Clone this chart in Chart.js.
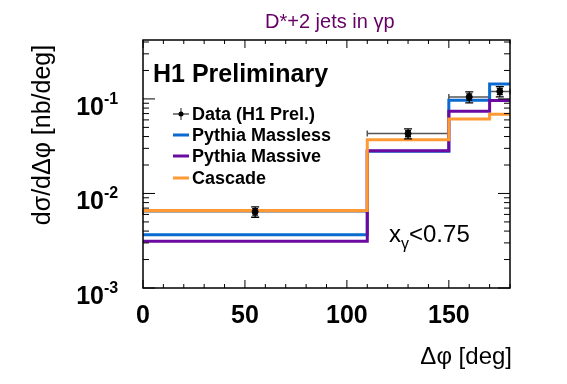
<!DOCTYPE html>
<html>
<head>
<meta charset="utf-8">
<script src="https://cdn.jsdelivr.net/npm/chart.js@4.4.1/dist/chart.umd.min.js"></script>
<style>
  html, body { margin: 0; padding: 0; background: #fff; }
  #wrap { width: 567px; height: 384px; }
</style>
</head>
<body>
<div id="wrap"><canvas id="phiChart" width="567" height="384"></canvas></div>
<script>
// bin edges in delta phi [deg]
const binEdges = [0, 110, 150, 170, 180];

// MC predictions, one value per bin [nb/deg]
const pythiaMassless = [0.00366, 0.0279, 0.0967, 0.144];
const pythiaMassive = [0.00313, 0.0283, 0.074, 0.096];
const cascade = [0.0066, 0.037, 0.0615, 0.069];

// H1 data
const dataX = [55, 130, 160, 175];
const dataY = [0.0064, 0.043, 0.105, 0.120];
const dataXLow = [0, 110, 150, 170];
const dataXHigh = [110, 150, 170, 180];
const dataStatErr = [0.0005, 0.0032, 0.008, 0.009];
const dataTotErr = [0.0008, 0.0053, 0.014, 0.015];

// axis ticks
const xMajorTicks = [0, 50, 100, 150];
const xTickLabels = ['0', '50', '100', '150'];
const yMajorTicks = [0.001, 0.01, 0.1];
const yTickExponents = ['-3', '-2', '-1'];

const FONT = '"Liberation Sans", Arial, Helvetica, sans-serif';
const BLUE = '#0a6ad0';
const PURPLE = '#6a0aa0';
const ORANGE = '#ff9933';

function stepPoints(values) {
    const pts = values.map((v, i) => ({ x: binEdges[i], y: v }));
    pts.push({ x: binEdges[binEdges.length - 1], y: values[values.length - 1] });
    return pts;
}

const h1Plugin = {
    id: 'h1Style',
    beforeDatasetsDraw(chart) {
        // horizontal (bin width) bars of the data
        const ctx = chart.ctx;
        const xs = chart.scales.x, ys = chart.scales.y;
        ctx.save();
        ctx.strokeStyle = '#555';
        ctx.lineWidth = 1.5;
        dataX.forEach((x, i) => {
            const py = ys.getPixelForValue(dataY[i]);
            const x1 = xs.getPixelForValue(dataXLow[i]);
            const x2 = xs.getPixelForValue(dataXHigh[i]);
            ctx.beginPath();
            ctx.moveTo(x1, py); ctx.lineTo(x2, py);
            ctx.moveTo(x1, py - 3); ctx.lineTo(x1, py + 3);
            ctx.moveTo(x2, py - 3); ctx.lineTo(x2, py + 3);
            ctx.stroke();
        });
        ctx.restore();
    },
    afterDatasetsDraw(chart) {
        const ctx = chart.ctx;
        const xs = chart.scales.x, ys = chart.scales.y;
        const area = chart.chartArea;
        ctx.save();

        // vertical error bars
        ctx.strokeStyle = '#000';
        ctx.lineWidth = 1.3;
        dataX.forEach((x, i) => {
            const px = xs.getPixelForValue(x);
            const yHi = ys.getPixelForValue(dataY[i] + dataTotErr[i]);
            const yLo = ys.getPixelForValue(dataY[i] - dataTotErr[i]);
            const sHi = ys.getPixelForValue(dataY[i] + dataStatErr[i]);
            const sLo = ys.getPixelForValue(dataY[i] - dataStatErr[i]);
            ctx.beginPath();
            ctx.moveTo(px, yHi); ctx.lineTo(px, yLo);
            ctx.moveTo(px - 4, yHi); ctx.lineTo(px + 4, yHi);
            ctx.moveTo(px - 4, yLo); ctx.lineTo(px + 4, yLo);
            ctx.moveTo(px - 3, sHi); ctx.lineTo(px + 3, sHi);
            ctx.moveTo(px - 3, sLo); ctx.lineTo(px + 3, sLo);
            ctx.stroke();
        });

        // frame
        ctx.strokeStyle = '#000';
        ctx.lineWidth = 1.5;
        ctx.strokeRect(area.left, area.top, area.right - area.left, area.bottom - area.top);

        // x ticks, bottom and top, pointing inwards
        ctx.lineWidth = 1;
        ctx.beginPath();
        for (let v = 0; v <= 180; v += 10) {
            const px = xs.getPixelForValue(v);
            const len = xMajorTicks.includes(v) ? 8 : 4;
            ctx.moveTo(px, area.bottom); ctx.lineTo(px, area.bottom - len);
            ctx.moveTo(px, area.top); ctx.lineTo(px, area.top + len);
        }
        // y ticks, left and right (log)
        yMajorTicks.forEach(dec => {
            for (let m = 1; m <= 9; m++) {
                const v = m * dec;
                if (v > ys.max) break;
                const py = ys.getPixelForValue(v);
                const len = m === 1 ? 12 : 6;
                ctx.moveTo(area.left, py); ctx.lineTo(area.left + len, py);
                ctx.moveTo(area.right, py); ctx.lineTo(area.right - len, py);
            }
        });
        ctx.stroke();

        // x tick labels
        ctx.fillStyle = '#000';
        ctx.font = 'bold 25px ' + FONT;
        ctx.textAlign = 'center';
        ctx.textBaseline = 'alphabetic';
        xMajorTicks.forEach((v, i) => {
            ctx.fillText(xTickLabels[i], xs.getPixelForValue(v), area.bottom + 35);
        });

        // y tick labels 10^n
        yMajorTicks.forEach((v, i) => {
            const py = ys.getPixelForValue(v);
            ctx.font = 'bold 25px ' + FONT;
            ctx.textAlign = 'right';
            ctx.fillText('10', 104, py + 16);
            ctx.font = 'bold 16px ' + FONT;
            ctx.textAlign = 'left';
            ctx.fillText(yTickExponents[i], 104, py + 5);
        });

        // axis titles
        ctx.font = '24px ' + FONT;
        ctx.textAlign = 'right';
        ctx.fillText('\u0394\u03c6 [deg]', 512, 364);

        ctx.save();
        ctx.translate(50, 135);
        ctx.rotate(-Math.PI / 2);
        ctx.textAlign = 'center';
        ctx.font = '25px ' + FONT;
        ctx.fillText('d\u03c3/d\u0394\u03c6 [nb/deg]', 0, 0);
        ctx.restore();

        // title
        ctx.fillStyle = '#660066';
        ctx.font = '20px ' + FONT;
        ctx.textAlign = 'left';
        ctx.fillText('D*+2 jets in \u03b3p', 265, 28);

        // H1 Preliminary
        ctx.fillStyle = '#000';
        ctx.font = 'bold 25px ' + FONT;
        ctx.fillText('H1 Preliminary', 153, 82);

        // x_gamma < 0.75
        let tx = 389;
        ctx.font = '24px ' + FONT;
        ctx.fillText('x', tx, 242);
        tx += ctx.measureText('x').width;
        ctx.font = '16px ' + FONT;
        ctx.fillText('\u03b3', tx, 249);
        tx += ctx.measureText('\u03b3').width;
        ctx.font = '24px ' + FONT;
        ctx.fillText('<0.75', tx, 242);

        // legend
        const legendItems = [
            { label: 'Data (H1 Prel.)', color: null, y: 114 },
            { label: 'Pythia Massless', color: BLUE, y: 135 },
            { label: 'Pythia Massive', color: PURPLE, y: 156 },
            { label: 'Cascade', color: ORANGE, y: 178 }
        ];
        ctx.font = 'bold 18px ' + FONT;
        ctx.textBaseline = 'middle';
        legendItems.forEach(item => {
            if (item.color) {
                ctx.strokeStyle = item.color;
                ctx.lineWidth = 3;
                ctx.beginPath();
                ctx.moveTo(173, item.y); ctx.lineTo(189, item.y);
                ctx.stroke();
            } else {
                ctx.strokeStyle = '#555';
                ctx.lineWidth = 1.3;
                ctx.beginPath();
                ctx.moveTo(173, item.y); ctx.lineTo(189, item.y);
                ctx.moveTo(181, item.y - 6); ctx.lineTo(181, item.y + 6);
                ctx.stroke();
                ctx.fillStyle = '#000';
                ctx.beginPath();
                ctx.arc(181, item.y, 2.5, 0, Math.PI * 2);
                ctx.fill();
            }
            ctx.fillStyle = '#000';
            ctx.fillText(item.label, 192, item.y + 1);
        });

        ctx.restore();
    }
};

document.addEventListener('DOMContentLoaded', function() {
    const ctx = document.getElementById('phiChart');
    new Chart(ctx, {
        type: 'line',
        data: {
            datasets: [
                {
                    label: 'Data (H1 Prel.)',
                    data: dataX.map((x, i) => ({ x: x, y: dataY[i] })),
                    showLine: false,
                    pointRadius: 3,
                    pointBackgroundColor: '#000',
                    pointBorderColor: '#000',
                    order: 0
                },
                {
                    label: 'Pythia Massless',
                    data: stepPoints(pythiaMassless),
                    stepped: true,
                    borderColor: BLUE,
                    borderWidth: 3,
                    pointRadius: 0,
                    fill: false,
                    order: 3
                },
                {
                    label: 'Pythia Massive',
                    data: stepPoints(pythiaMassive),
                    stepped: true,
                    borderColor: PURPLE,
                    borderWidth: 3,
                    pointRadius: 0,
                    fill: false,
                    order: 2
                },
                {
                    label: 'Cascade',
                    data: stepPoints(cascade),
                    stepped: true,
                    borderColor: ORANGE,
                    borderWidth: 3,
                    pointRadius: 0,
                    fill: false,
                    order: 1
                }
            ]
        },
        options: {
            responsive: false,
            animation: false,
            layout: {
                padding: { left: 143, right: 57, top: 40, bottom: 96 }
            },
            plugins: {
                legend: { display: false },
                tooltip: { enabled: false },
                title: { display: false }
            },
            scales: {
                x: {
                    type: 'linear',
                    min: 0,
                    max: 180,
                    display: false
                },
                y: {
                    type: 'logarithmic',
                    min: 0.001,
                    max: 0.42,
                    display: false
                }
            }
        },
        plugins: [h1Plugin]
    });
});
</script>
</body>
</html>
